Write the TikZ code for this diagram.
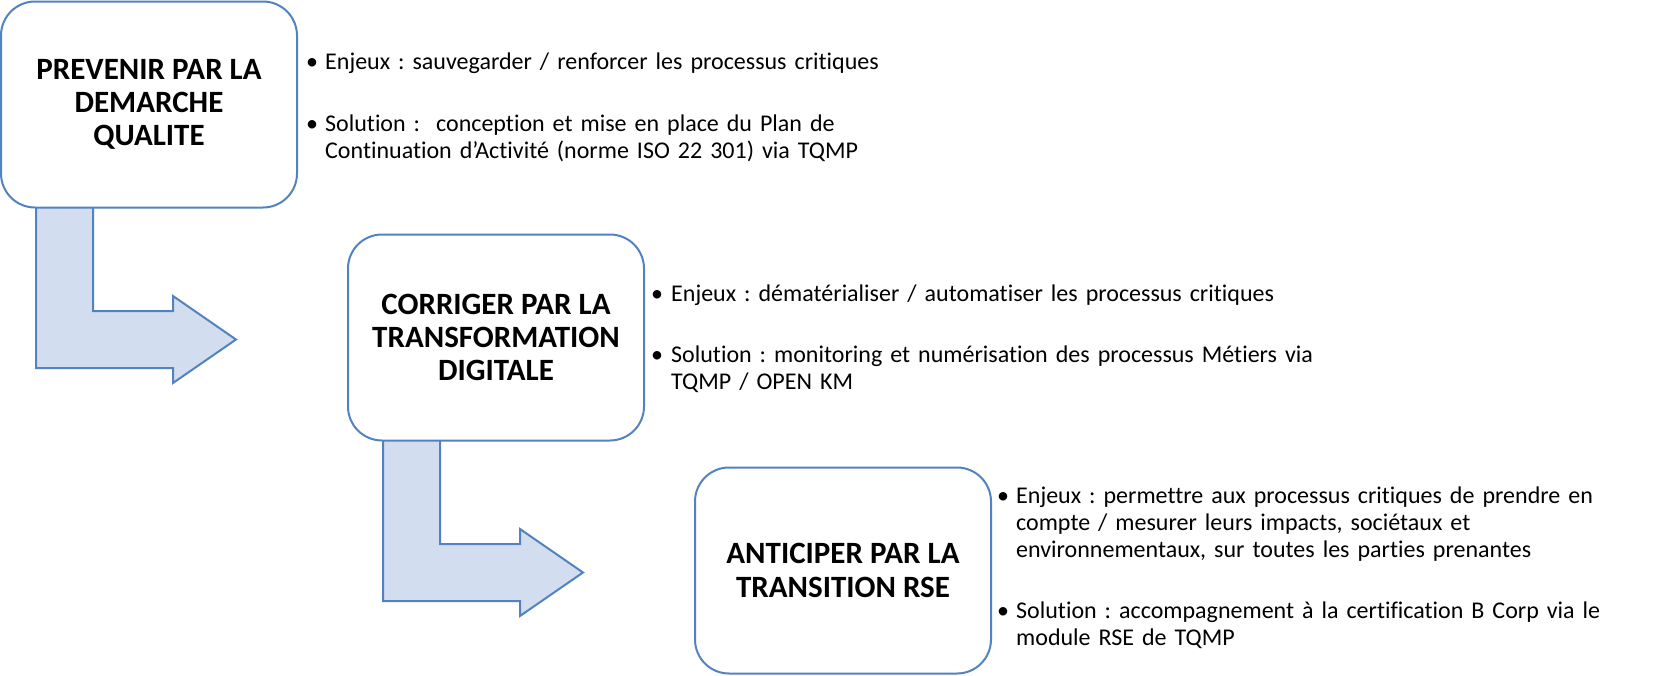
\documentclass[tikz,border=0pt]{standalone}
\usepackage{fontspec}
\setmainfont{Carlito}[Ligatures={NoCommon,NoContextual,NoRare}, Contextuals=NoAlternate]
\frenchspacing
\definecolor{lineblue}{HTML}{5283C0}
\definecolor{arrowfill}{HTML}{D2DEEF}
\begin{document}
\begin{tikzpicture}[x=1pt,y=-1pt,
  stagebox/.style={draw=lineblue, line width=2pt, fill=white, rounded corners=34pt,
    minimum width=296pt, minimum height=206pt, inner sep=0pt,
    font=\fontsize{31}{33.2}\selectfont\bfseries, align=center},
  bentarrow/.style={draw=lineblue, line width=2pt, fill=arrowfill, line join=miter},
  bodytext/.style={font=\fontsize{24}{27}\selectfont, text width=700pt, align=left,
    inner sep=0pt, anchor=base west},
  bulletmark/.style={font=\fontsize{24}{27}\selectfont, inner sep=0pt, anchor=base}]
\useasboundingbox (0,0) rectangle (1660,675);
% bent arrows (behind the boxes)
\draw[bentarrow] (36,200) -- (36,368) -- (173,368) -- (173,383) -- (236,339.5)
  -- (173,296) -- (173,311) -- (93,311) -- (93,200) -- cycle;
\draw[bentarrow] (383,433) -- (383,601) -- (520,601) -- (520,616) -- (583,572.5)
  -- (520,529) -- (520,544) -- (440,544) -- (440,433) -- cycle;
% stage boxes
\node[stagebox] (b1) at (149,104.5) {PREVENIR PAR LA\\DEMARCHE\\QUALITE};
\node[stagebox] (b2) at (496,337.5) {CORRIGER PAR LA\\TRANSFORMATION\\DIGITALE};
\node[stagebox] (b3) at (843,570.5) {ANTICIPER PAR LA\\TRANSITION RSE};
% texts of stage 1
\node[bulletmark] (m1a) at (312,69) {•};
\node[bodytext] (t1a) at (325,69) {Enjeux : sauvegarder / renforcer les processus critiques};
\node[bulletmark] (m1b) at (312,131) {•};
\node[bodytext] (t1b) at (325,131) {Solution :\ \ conception et mise en place du Plan de\\Continuation d’Activité (norme ISO 22 301) via TQMP};
% texts of stage 2
\node[bulletmark] (m2a) at (657,301) {•};
\node[bodytext] (t2a) at (671,301) {Enjeux : dématérialiser / automatiser les processus critiques};
\node[bulletmark] (m2b) at (657,362) {•};
\node[bodytext] (t2b) at (671,362) {Solution : monitoring et numérisation des processus Métiers via\\TQMP / OPEN KM};
% texts of stage 3
\node[bulletmark] (m3a) at (1003,503) {•};
\node[bodytext] (t3a) at (1016,503) {Enjeux : permettre aux processus critiques de prendre en\\compte / mesurer leurs impacts, sociétaux et\\environnementaux, sur toutes les parties prenantes};
\node[bulletmark] (m3b) at (1003,618) {•};
\node[bodytext] (t3b) at (1016,618) {Solution : accompagnement à la certification B Corp via le\\module RSE de TQMP};
\end{tikzpicture}
\end{document}
